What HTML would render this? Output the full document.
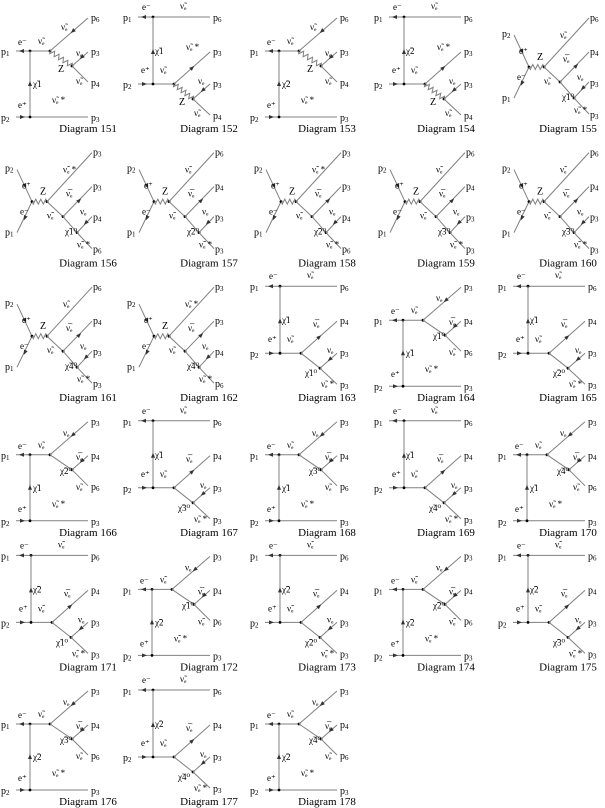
<!DOCTYPE html>
<html><head><meta charset="utf-8">
<style>
html,body{margin:0;padding:0;background:#fff;}
svg{display:block;}
text{font-family:"Liberation Serif","DejaVu Serif",serif;fill:#000;}
</style></head>
<body>
<svg id="s" width="605" height="808" viewBox="0 0 605 808" xmlns="http://www.w3.org/2000/svg"></svg>
<script>
const S=document.getElementById('s');
const NS='http://www.w3.org/2000/svg';
let ox=0,oy=0;
function el(n,a,t){const e=document.createElementNS(NS,n);for(const k in a)e.setAttribute(k,a[k]);if(t!==undefined)e.textContent=t;S.appendChild(e);return e;}
function L(x1,y1,x2,y2){el('line',{x1:ox+x1,y1:oy+y1,x2:ox+x2,y2:oy+y2,stroke:'#808080','stroke-width':1});}
function D(x,y){el('circle',{cx:ox+x,cy:oy+y,r:1.4,fill:'#000'});}
function A(x,y,dx,dy){const l=Math.hypot(dx,dy);dx/=l;dy/=l;const px=-dy,py=dx;const X=ox+x,Y=oy+y;
 el('polygon',{points:`${X+dx*3},${Y+dy*3} ${X-dx*2+px*2},${Y-dy*2+py*2} ${X-dx*2-px*2},${Y-dy*2-py*2}`,fill:'#333'});}
function W(x1,y1,x2,y2){const dx=x2-x1,dy=y2-y1,l=Math.hypot(dx,dy),ux=dx/l,uy=dy/l,px=-uy,py=ux;let d=`M${ox+x1},${oy+y1}`;const n=Math.max(3,Math.round(l/5));
 for(let i=1;i<=n*4;i++){const t=i/(n*4)*l;const s=Math.sin(i*Math.PI/2)*2.5;d+=` L${(ox+x1+ux*t+px*s).toFixed(1)},${(oy+y1+uy*t+py*s).toFixed(1)}`;}
 el('path',{d:d,fill:'none',stroke:'#808080','stroke-width':1});}
function T(x,y,s,sz){el('text',{x:ox+x,y:oy+y,'font-size':sz||10},s);}
function P(x,y,n){const t=el('text',{x:ox+x,y:oy+y,'font-size':10},'p');const ts=document.createElementNS(NS,'tspan');ts.setAttribute('font-size','7');ts.setAttribute('dy','1');ts.textContent=n;t.appendChild(ts);}
function SN(x,y,star){T(x,y,'ν̃ₑ'+(star?' *':''),9);}
function NU(x,y){T(x,y,'νₑ',9);}
function NB(x,y){T(x,y,'ν̅ₑ',9);}
function CH(x,y,n,z){T(x,y,'χ̃'+n+(z?'⁰':''),9);}

function typeA(o){
 L(16,51,50,51);A(22,51,-1,0);D(30,51);D(50,51);
 L(30,51,30,117);A(30,84,0,-1);
 L(16,117,88,117);A(22,117,1,0);D(30,117);
 L(50,51,88,18);A(73,31,-1,0.87);
 if(o.w)W(50,51,72,66);else L(50,51,72,66);D(72,66);
 L(72,66,88,52);L(72,66,88,82);A(82,57,-1,0.87);
 P(1,55,1);P(1,121,2);P(91,21,o.e[0]);P(91,55,o.e[1]);P(91,86,o.e[2]);P(91,121,o.e[3]);
 T(18,45,'e⁻',9);T(18,108,'e⁺',9);CH(33,87,o.c);SN(38,44);SN(52,103,1);
 if(o.w){T(58,72,'Z',10);SN(61,30);NU(76,56);SN(76,84);}
 else{NU(63,32);CH(60,70,o.n,1);SN(76,86);NB(76,56);}
}
function typeB(o){
 L(16,17,88,17);A(22,17,-1,0);D(31,17);
 L(31,17,31,84);A(31,52,0,-1);
 L(16,84,52,84);A(22,84,1,0);D(31,84);D(52,84);
 L(52,84,88,52);A(70,68,1,-0.89);
 if(o.w)W(52,84,71,99);else L(52,84,71,99);D(71,99);
 L(71,99,88,84);L(71,99,88,115);A(81,90,-1,0.87);
 P(1,21,1);P(1,88,2);P(91,21,o.e[0]);P(91,55,o.e[1]);P(91,87,o.e[2]);P(91,119,o.e[3]);
 T(20,10,'e⁻',9);SN(58,9);CH(33,54,o.c);T(19,73,'e⁺',9);SN(38,73);
 if(o.w){SN(64,50,1);T(57,105,'Z',10);NU(76,84);SN(72,116);}
 else{NB(64,58);CH(56,107,o.n,1);NU(78,84);SN(72,118,1);}
}
function typeC(o){
 L(17,35,32,67);A(25,51,0.45,1);L(32,67,17,98);A(25,83,-0.45,1);D(32,67);
 W(32,67,47,67);D(47,67);
 L(47,67,92,18);L(47,67,63,82);D(63,82);
 L(63,82,92,52);A(79,66,1,-1);
 L(63,82,77,98);D(77,98);L(77,98,92,82);L(77,98,92,114);A(86,88,-1,1);
 P(5,37,2);P(5,101,1);P(93,21,o.e[0]);P(93,55,o.e[1]);P(93,86,o.e[2]);P(93,118,o.e[3]);
 T(22,54,'e⁺',9);T(20,80,'e⁻',9);T(40,60,'Z',10);
 SN(63,38,o.s);NB(66,62);SN(47,84);CH(65,100,o.n,1);NU(80,80);SN(77,113,1);
}
const cols=[0,122,249,373,497],rows=[0,134.6,269.2,403.8,538.4,673],labx=[88,209,327,446,568];
const D0={
151:['A',{w:1,c:'1',e:[6,3,4,3]}],152:['B',{w:1,c:'1',e:[6,3,3,4]}],153:['A',{w:1,c:'2',e:[6,3,4,3]}],154:['B',{w:1,c:'2',e:[6,3,3,4]}],155:['C',{n:'1',e:[6,4,3,3]}],
156:['C',{n:'1',s:1,e:[3,3,4,6]}],157:['C',{n:'2',e:[6,4,3,3]}],158:['C',{n:'2',s:1,e:[3,3,4,6]}],159:['C',{n:'3',e:[6,4,3,3]}],160:['C',{n:'3',e:[6,4,3,3]}],
161:['C',{n:'4',e:[6,4,3,3]}],162:['C',{n:'4',s:1,e:[3,3,4,6]}],163:['B',{c:'1',n:'1',e:[6,4,3,3]}],164:['A',{c:'1',n:'1',e:[3,4,6,3]}],165:['B',{c:'1',n:'2',e:[6,4,3,3]}],
166:['A',{c:'1',n:'2',e:[3,4,6,3]}],167:['B',{c:'1',n:'3',e:[6,4,3,3]}],168:['A',{c:'1',n:'3',e:[3,4,6,3]}],169:['B',{c:'1',n:'4',e:[6,4,3,3]}],170:['A',{c:'1',n:'4',e:[3,4,6,3]}],
171:['B',{c:'2',n:'1',e:[6,4,3,3]}],172:['A',{c:'2',n:'1',e:[3,4,6,3]}],173:['B',{c:'2',n:'2',e:[6,4,3,3]}],174:['A',{c:'2',n:'2',e:[3,4,6,3]}],175:['B',{c:'2',n:'3',e:[6,4,3,3]}],
176:['A',{c:'2',n:'3',e:[3,4,6,3]}],177:['B',{c:'2',n:'4',e:[6,4,3,3]}],178:['A',{c:'2',n:'4',e:[3,4,6,3]}]};
for(let k=151;k<=178;k++){const i=k-151,c=i%5,r=Math.floor(i/5);ox=cols[c];oy=rows[r];
 const [t,o]=D0[k];if(t=='A')typeA(o);else if(t=='B')typeB(o);else typeC(o);
 ox=0;oy=0;el('text',{x:labx[c],y:rows[r]+132,'font-size':11,'text-anchor':'middle'},'Diagram '+k);}
</script>
</body></html>
